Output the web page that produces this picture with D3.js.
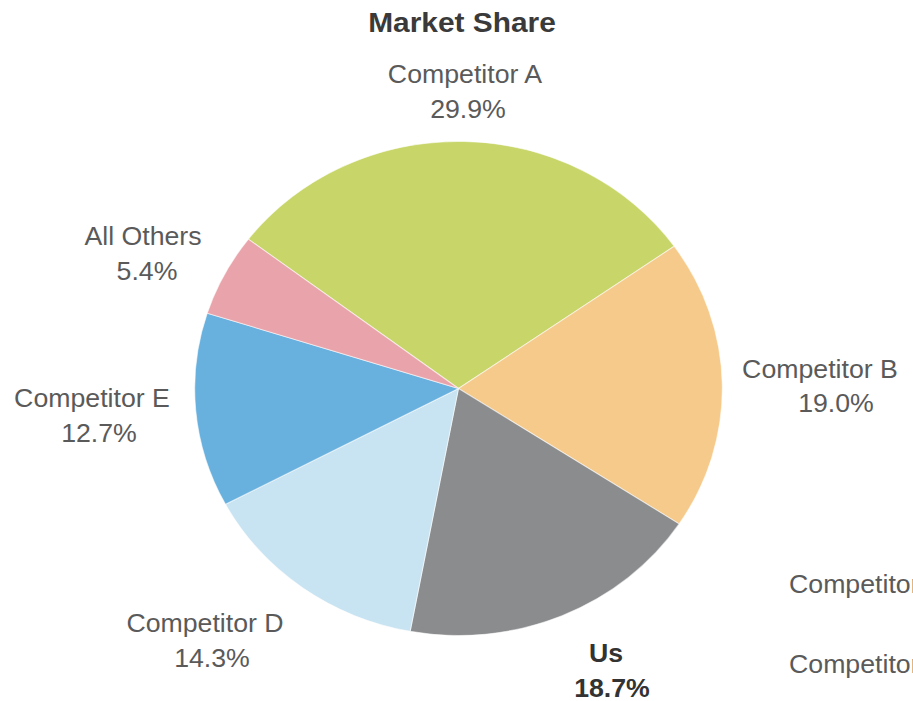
<!DOCTYPE html>
<html>
<head>
<meta charset="utf-8">
<script src="https://cdn.jsdelivr.net/npm/d3@7"></script>
<style>
  html, body { margin: 0; padding: 0; background: #fff; }
  svg { display: block; }
  text { font-family: "Liberation Sans", Arial, Helvetica, sans-serif; }
</style>
</head>
<body>
<script>
// Market share by company (percent), clockwise from the upper left
const companies = ["Competitor A", "Competitor B", "Us", "Competitor D", "Competitor E", "All Others"];
const shares = [29.9, 19.0, 18.7, 14.3, 12.7, 5.4];
const colors = ["#c8d568", "#f5ca8b", "#8a8c8e", "#c8e3f1", "#68b1de", "#e9a3aa"];
// Label anchor points: [name x, name baseline, value x, value baseline]
const labelPos = [
  [465, 83, 468, 118],
  [820, 378, 836, 412],
  [606, 662, 612, 697],
  [205, 632, 212, 667],
  [92, 407, 99, 442],
  [143, 245, 147, 280]
];
const strayLabels = ["Competitor", "Competitor"];
const strayPos = [[789, 593], [789, 673]];

const W = 913, H = 701;
const sx = 1.068;             // the drawing is slightly wider than tall
const cx = 458.5, cy = 388.5, r = 247;

const svg = d3.select("body").append("svg")
  .attr("width", W).attr("height", H);

const pie = d3.pie().sort(null)
  .startAngle(-52.8 * Math.PI / 180)
  .endAngle((360 - 52.8) * Math.PI / 180);
const arc = d3.arc().innerRadius(0).outerRadius(r);
const color = d3.scaleOrdinal().domain(companies).range(colors);

const data = companies.map((c, i) => ({ name: c, value: shares[i], pos: labelPos[i] }));

const g = svg.append("g")
  .attr("transform", `translate(${cx},${cy}) scale(${sx},1)`);

g.selectAll("path")
  .data(pie.value(d => d.value)(data))
  .join("path")
  .attr("d", arc)
  .attr("fill", d => color(d.data.name))
  .attr("stroke", "#ffffff")
  .attr("stroke-opacity", 0.55)
  .attr("stroke-width", 1);

// Title
svg.append("text")
  .attr("transform", `translate(462,32) scale(${sx},1)`)
  .attr("text-anchor", "middle")
  .attr("font-size", 28)
  .attr("font-weight", "bold")
  .attr("fill", "#3a3a3a")
  .text("Market Share");

// Slice labels: name and percentage
const labels = svg.append("g");
data.forEach(d => {
  const bold = d.name === "Us";
  const fill = bold ? "#333" : "#5a5a5a";
  labels.append("text")
    .attr("transform", `translate(${d.pos[0]},${d.pos[1]}) scale(${sx},1)`)
    .attr("text-anchor", "middle")
    .attr("font-size", 25)
    .attr("font-weight", bold ? "bold" : "normal")
    .attr("fill", fill)
    .text(d.name);
  labels.append("text")
    .attr("transform", `translate(${d.pos[2]},${d.pos[3]}) scale(${sx},1)`)
    .attr("text-anchor", "middle")
    .attr("font-size", 25)
    .attr("font-weight", bold ? "bold" : "normal")
    .attr("fill", fill)
    .text(d3.format(".1f")(d.value) + "%");
});

// Labels of a neighbouring chart running off the right edge
strayLabels.forEach((t, i) => {
  svg.append("text")
    .attr("transform", `translate(${strayPos[i][0]},${strayPos[i][1]}) scale(${sx},1)`)
    .attr("font-size", 25)
    .attr("fill", "#5a5a5a")
    .text(t);
});
</script>
</body>
</html>
